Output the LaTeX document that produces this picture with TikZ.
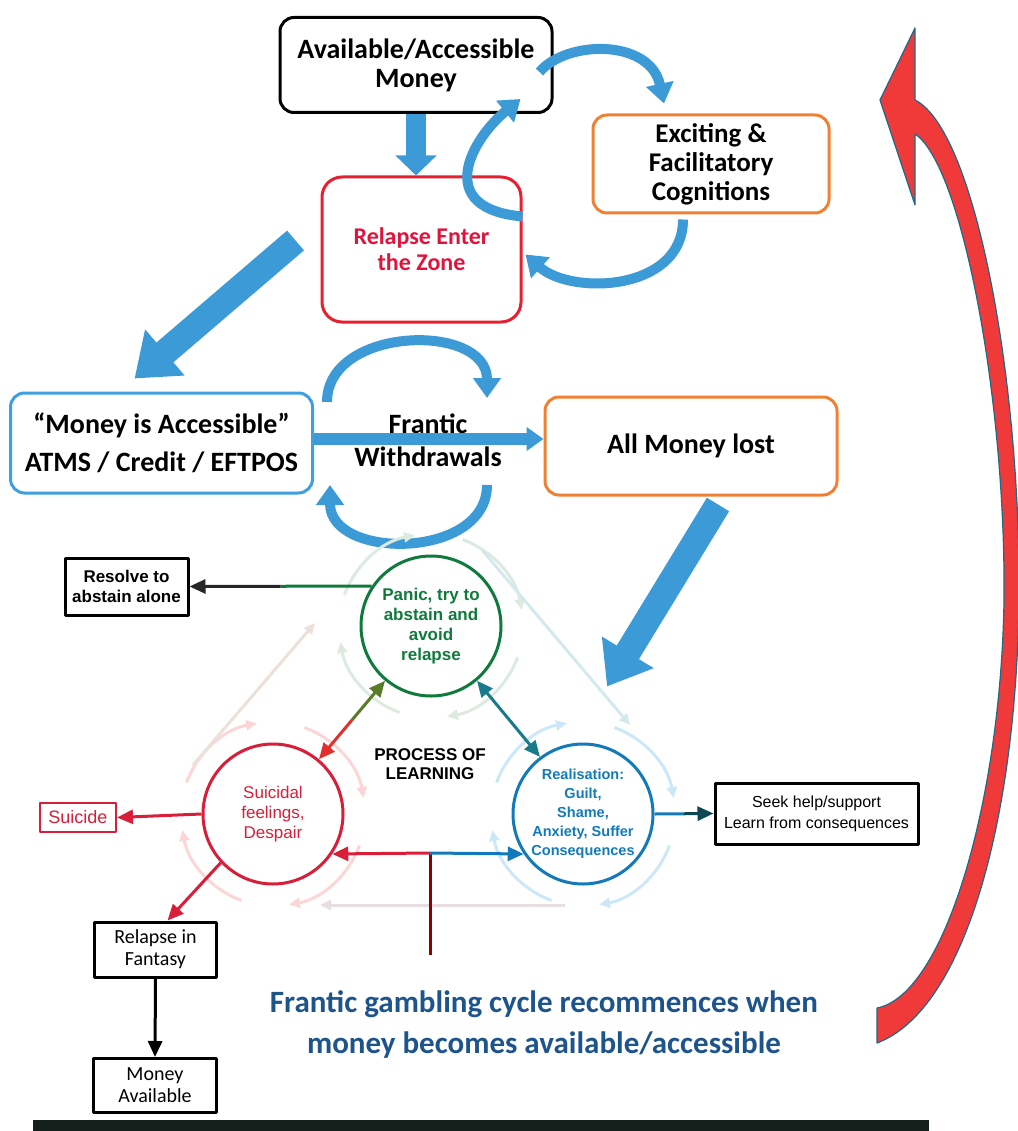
\documentclass[tikz,border=0pt]{standalone}
\usepackage{fontspec}
\setmainfont{Carlito}
\newfontfamily\arialfont{Liberation Sans}
\usetikzlibrary{positioning, arrows.meta, calc}

\definecolor{arrowblue}{RGB}{60,155,214}
\definecolor{boxorange}{RGB}{240,128,50}
\definecolor{boxred}{RGB}{230,32,48}
\definecolor{boxblue}{RGB}{62,160,224}
\definecolor{relred}{RGB}{222,20,60}
\definecolor{cgreen}{RGB}{16,122,60}
\definecolor{cred}{RGB}{216,30,56}
\definecolor{cblue}{RGB}{18,122,184}
\definecolor{cteal}{RGB}{24,122,138}
\definecolor{ringgreen}{RGB}{220,234,224}
\definecolor{ringred}{RGB}{252,214,214}
\definecolor{ringblue}{RGB}{204,232,248}
\definecolor{bigred}{RGB}{240,58,58}
\definecolor{redrim}{RGB}{30,105,135}
\definecolor{bottomblue}{RGB}{30,84,140}
\definecolor{barblack}{RGB}{20,30,26}

\begin{document}
\begin{tikzpicture}[x=1pt, y=-1pt, line join=round]
	\tikzstyle{topbox}=[draw, rounded corners=14pt, line width=3pt, align=center, font=\bfseries\fontsize{28}{29}\selectfont]
	\tikzstyle{circ}=[circle, draw, line width=3pt, minimum size=140pt, inner sep=0pt, align=center, font=\arialfont\bfseries\fontsize{17}{20}\selectfont]
	\tikzstyle{smallbox}=[rectangle, draw=black, line width=3pt, align=center, font=\arialfont\bfseries\fontsize{17}{20}\selectfont]
	\tikzstyle{bigarrow}=[draw=arrowblue, line width=26pt, -{Triangle[length=40pt,width=58pt]}]
	\tikzstyle{downarrow}=[draw=arrowblue, line width=20pt, -{Triangle[length=20pt,width=40pt]}]
	\tikzstyle{flatarrow}=[draw=arrowblue, line width=12pt, -{Triangle[length=17pt,width=23pt]}]
	\tikzstyle{curvy}=[draw=arrowblue, line width=10pt, -{Triangle[length=20pt,width=27pt]}]
	\tikzstyle{link}=[line width=3pt, -{Triangle[length=16pt,width=14pt]}]
	\tikzstyle{plain}=[line width=3pt]
	\tikzstyle{ring}=[line width=3pt, -{Triangle[length=11pt,width=10pt]}]

	\useasboundingbox (0,0) rectangle (1017,1131);

	% Top boxes
	\node[topbox, minimum width=272pt, minimum height=95pt] (avail) at (416,65) {Available/Accessible\\Money};
	\node[topbox, draw=boxorange, minimum width=236pt, minimum height=98pt, font=\bfseries\fontsize{27}{29}\selectfont] (excite) at (711,164) {Exciting \&\\Facilitatory\\Cognitions};
	\node[topbox, draw=boxred, rounded corners=20pt, text=relred, minimum width=199pt, minimum height=145pt, font=\bfseries\fontsize{24}{26}\selectfont] (relapse) at (421.5,249.5) {Relapse Enter\\the Zone};

	% Middle boxes
	\node[topbox, draw=boxblue, minimum width=302pt, minimum height=100pt, font=\bfseries\fontsize{28}{38}\selectfont] (access) at (161.5,443) {“Money is Accessible”\\ATMS / Credit / EFTPOS};
	\node[topbox, draw=boxorange, minimum width=292pt, minimum height=98pt] (lost) at (691,446) {All Money lost};
	\node[align=center, font=\bfseries\fontsize{28}{33}\selectfont] (frantic) at (428,440) {Frantic\\Withdrawals};

	% Process of learning
	\node[circ, draw=cgreen, text=cgreen] (panic) at (431,626) {Panic, try to\\abstain and\\avoid\\relapse};
	\node[circ, draw=cred, text=cred, font=\arialfont\fontsize{17}{20}\selectfont] (suicidal) at (273,814) {Suicidal\\feelings,\\Despair};
	\node[circ, draw=cblue, text=cblue, font=\arialfont\bfseries\fontsize{14.5}{19}\selectfont] (realis) at (583,814) {Realisation:\\Guilt,\\Shame,\\Anxiety, Suffer\\Consequences};
	\node[align=center, font=\arialfont\bfseries\fontsize{17}{19}\selectfont] (learn) at (430,764) {PROCESS OF\\LEARNING};

	% Blue arrows
	\draw[downarrow] (avail.south) -- (avail.south |- relapse.north);
	\draw[bigarrow] ($(relapse.west)+(-25,-9)$) -- ($(access.north)+(-27,-13)$);
	\draw[bigarrow] ($(lost.south)+(27,8)$) -- ($(realis.north)+(24,-56)$);
	\draw[flatarrow] ([yshift=4pt]access.east) -- ([yshift=4pt]access.east -| lost.west);

	% Loops
	\draw[curvy] ($(relapse.north east)+(0,41)$) .. controls ($(relapse.north east)+(-90,33)$) and ($(avail.south east)+(-82,25)$) .. ($(avail.south east)+(-33,-15)$);
	\draw[curvy] ($(avail.east)+(-14,7)$) .. controls ($(avail.east)+(13,-25)$) and ($(excite.north)+(-61,-75)$) .. ($(excite.north)+(-47,-10)$);
	\draw[curvy] ($(excite.south)+(-28,5)$) .. controls ($(excite.south)+(-28,77)$) and ($(relapse.east)+(49,46)$) .. ($(relapse.east)+(3,5)$);
	\draw[curvy] ($(frantic)+(-101,-38)$) .. controls ($(frantic)+(-101,-114)$) and ($(frantic)+(59,-118)$) .. ($(frantic)+(59,-42)$);
	\draw[curvy] ($(frantic)+(59,45)$) .. controls ($(frantic)+(59,120)$) and ($(frantic)+(-98,120)$) .. ($(frantic)+(-98,45)$);

	% Faint cycle
	\foreach \c/\col in {panic/ringgreen, suicidal/ringred, realis/ringblue}
	\foreach \a in {-160,-70,20,110}
	\draw[ring, draw=\col] ($(\c)+(\a:92)$) arc[start angle=\a, end angle=\a+60, radius=92];
	\draw[ring, draw=ringred!50!ringgreen] ($(suicidal)+(-80,-49)$) -- ($(panic)+(-116,-3)$);
	\draw[ring, draw=ringgreen!50!ringblue] ($(panic)+(51,-76)$) -- ($(realis)+(47,-89)$);
	\draw[ring, draw=ringblue!40!ringred] ($(realis)+(-18,91)$) -- ($(suicidal)+(47,91)$);

	% Outcomes
	\node[smallbox, minimum width=123pt, minimum height=57pt] (resolve) at (126.5,586.5) {Resolve to\\abstain alone};
	\node[smallbox, draw=cred, text=cred, line width=2pt, minimum width=76pt, minimum height=29pt, inner sep=0pt, font=\arialfont\fontsize{18}{20}\selectfont] (suicide) at (78,817.5) {Suicide};
	\node[smallbox, minimum width=122pt, minimum height=55pt, font=\fontsize{20}{22}\selectfont] (fantasy) at (155.5,949.5) {Relapse in\\Fantasy};
	\node[smallbox, minimum width=123pt, minimum height=54pt, font=\fontsize{20}{22}\selectfont] (moneyav) at (155,1085.5) {Money\\Available};
	\node[smallbox, minimum width=203pt, minimum height=61pt, font=\arialfont\fontsize{16}{21}\selectfont] (seek) at (816.5,813.5) {Seek help/support\\Learn from consequences};

	% Connectors
	\coordinate (rmid) at ($(panic.146)!0.5!(resolve.east)$);
	\draw[plain, cgreen] (panic.146) -- (rmid);
	\draw[link, black!85] (rmid) -- (resolve.east);
	\draw[link, cred] (suicidal.west) -- (suicide.east);
	\draw[link, cred] (suicidal.223) -- ($(fantasy.north)+(12,0)$);
	\draw[link, black] (fantasy.south) -- (moneyav.north);
	\coordinate (smid) at ($(realis.east)!0.5!(seek.west)$);
	\draw[plain, cblue] (realis.east) -- (smid);
	\draw[link, cteal!60!black] (smid) -- (seek.west);
	\coordinate (pmid) at ($(panic.230)!0.5!(suicidal.50)$);
	\draw[link, cgreen!70!orange] (pmid) -- (panic.230);
	\draw[link, cred!80!orange] (pmid) -- (suicidal.50);
	\draw[link, cteal, {Triangle[length=16pt,width=14pt]}-{Triangle[length=16pt,width=14pt]}] (panic.310) -- (realis.127);
	\coordinate (junction) at (430,853);
	\coordinate (stem) at (430,955);
	\draw[plain, red!55!black] (stem) -- (junction);
	\draw[link, cred] (junction) -- (suicidal.326);
	\draw[link, cblue] (junction) -- (realis.214);

	% Return arrow
	\filldraw[fill=bigred, draw=redrim, line width=1.2pt] (915,100) .. controls (975,130) and (1021,380) .. (1019,600) .. controls (1016,820) and (965,1010) .. (877,1043) -- (877,1008) .. controls (945,995) and (1001,800) .. (1004,600) .. controls (1006,400) and (962,165) .. (915,134) -- (915,205) -- (880,100) -- (915,28) -- cycle;

	\node[align=center, text=bottomblue, font=\bfseries\fontsize{31}{41}\selectfont] (recommence) at (544,1025) {Frantic gambling cycle recommences when\\money becomes available/accessible};
	\fill[barblack] (33,1120) rectangle (929,1131);
\end{tikzpicture}
\end{document}
